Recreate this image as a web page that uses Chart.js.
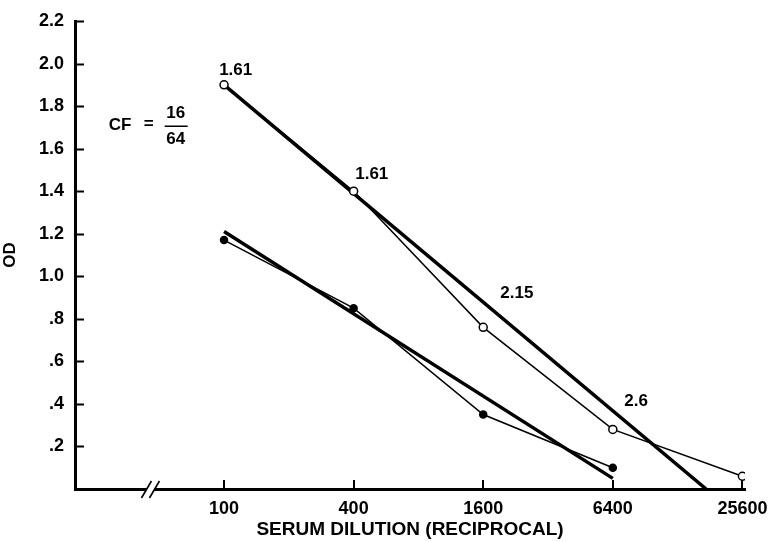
<!DOCTYPE html>
<html>
<head>
<meta charset="utf-8">
<script src="https://cdn.jsdelivr.net/npm/chart.js@4/dist/chart.umd.min.js"></script>
<style>
  html, body { margin: 0; padding: 0; background: #fff; }
  #wrap { width: 770px; height: 542px; }
</style>
</head>
<body>
<div id="wrap"><canvas id="odChart" width="770" height="542"></canvas></div>
<script>
// serum dilutions (reciprocal), evenly spaced on a log axis
const dilutions = ["100", "400", "1600", "6400", "25600"];
const yTickLabels = ["", ".2", ".4", ".6", ".8", "1.0", "1.2", "1.4", "1.6", "1.8", "2.0", "2.2"];

// measured OD, open circles
const openOD = [1.9, 1.40, 0.76, 0.28, 0.06];
// measured OD, filled circles
const filledOD = [1.17, 0.85, 0.35, 0.10];

// fitted straight lines (dilution index -> OD)
const upperFitX = [0, 3.72];
const upperFitY = [1.9, 0];
const lowerFitX = [0, 3];
const lowerFitY = [1.21, 0.05];

// slope labels
const slopeLabels = ["1.61", "1.61", "2.15", "2.6"];

const FONT = "'Liberation Sans', Arial, Helvetica, sans-serif";

function pts(xs, ys) {
    return ys.map((y, i) => ({ x: xs[i], y: y }));
}
const idx = dilutions.map((d, i) => i);

const annotations = {
    id: "annotations",
    afterDraw(chart) {
        const ctx = chart.ctx;
        const x = chart.scales.x;
        const y = chart.scales.y;
        ctx.save();
        ctx.strokeStyle = "#000";
        ctx.lineWidth = 2;
        // inward tick marks
        y.ticks.forEach(t => {
            if (t.value === 0) return;
            const py = Math.round(y.getPixelForValue(t.value)) + 0.5;
            ctx.beginPath();
            ctx.moveTo(x.left, py);
            ctx.lineTo(x.left + 9, py);
            ctx.stroke();
        });
        x.ticks.forEach(t => {
            const px = Math.round(x.getPixelForValue(t.value));
            ctx.beginPath();
            ctx.moveTo(px, y.bottom);
            ctx.lineTo(px, y.bottom - 9);
            ctx.stroke();
        });
        // axis break
        const bx = x.getPixelForValue(-0.56);
        const by = y.bottom;
        ctx.fillStyle = "#fff";
        ctx.fillRect(bx - 5, by - 3, 8, 6);
        ctx.lineWidth = 1.6;
        [-4, 4].forEach(o => {
            ctx.beginPath();
            ctx.moveTo(bx + o - 6, by + 9);
            ctx.lineTo(bx + o + 4, by - 8);
            ctx.stroke();
        });

        // slope labels
        const spots = [[0.09, 1.97], [1.14, 1.48], [2.26, 0.92], [3.18, 0.41]];
        ctx.fillStyle = "#000";
        ctx.font = "bold 17px " + FONT;
        ctx.textAlign = "center";
        ctx.textBaseline = "middle";
        slopeLabels.forEach((s, i) => {
            ctx.fillText(s, x.getPixelForValue(spots[i][0]), y.getPixelForValue(spots[i][1]));
        });

        // CF = 16/64
        const cx = x.getPixelForValue(-0.89);
        const cy = y.getPixelForValue(1.71);
        ctx.textAlign = "left";
        ctx.fillText("CF", cx, cy);
        ctx.fillText("=", cx + 35, cy - 1);
        ctx.textAlign = "center";
        const fx = cx + 67;
        ctx.fillText("16", fx, cy - 12);
        ctx.fillText("64", fx, cy + 14);
        ctx.lineWidth = 1.5;
        ctx.beginPath();
        ctx.moveTo(fx - 11, cy + 1);
        ctx.lineTo(fx + 12, cy + 1);
        ctx.stroke();
        ctx.restore();
    }
};

new Chart(document.getElementById("odChart"), {
    type: "scatter",
    data: {
        datasets: [
            {
                label: "open",
                data: pts(idx, openOD),
                showLine: true,
                borderColor: "#000",
                borderWidth: 1.5,
                pointRadius: 4,
                pointBackgroundColor: "#fff",
                pointBorderColor: "#000",
                pointBorderWidth: 1.5,
                order: 1
            },
            {
                label: "filled",
                data: pts(idx, filledOD),
                showLine: true,
                borderColor: "#000",
                borderWidth: 1.5,
                pointRadius: 3.5,
                pointBackgroundColor: "#000",
                pointBorderColor: "#000",
                order: 2
            },
            {
                label: "upper fit",
                data: pts(upperFitX, upperFitY),
                showLine: true,
                borderColor: "#000",
                borderWidth: 3.5,
                pointRadius: 0,
                order: 3
            },
            {
                label: "lower fit",
                data: pts(lowerFitX, lowerFitY),
                showLine: true,
                borderColor: "#000",
                borderWidth: 3.5,
                pointRadius: 0,
                order: 4
            }
        ]
    },
    options: {
        responsive: false,
        animation: false,
        layout: {
            padding: { left: 0, top: 21, right: 25, bottom: 0 }
        },
        plugins: {
            legend: { display: false },
            tooltip: { enabled: false }
        },
        scales: {
            x: {
                type: "linear",
                min: -1.15,
                max: 4.02,
                afterBuildTicks: scale => {
                    scale.ticks = idx.map(i => ({ value: i }));
                },
                afterFit: scale => { scale.height = 53; },
                grid: { display: false },
                border: { display: true, color: "#000", width: 3 },
                ticks: {
                    color: "#000",
                    padding: 1,
                    maxRotation: 0,
                    font: { family: FONT, size: 18, weight: "bold" },
                    callback: v => dilutions[v]
                },
                title: {
                    display: true,
                    text: "SERUM DILUTION (RECIPROCAL)",
                    color: "#000",
                    padding: { top: 0, bottom: 1 },
                    font: { family: FONT, size: 19, weight: "bold" }
                }
            },
            y: {
                min: 0,
                max: 2.2,
                afterFit: scale => { scale.width = 75; },
                grid: { display: false },
                border: { display: true, color: "#000", width: 3 },
                ticks: {
                    stepSize: 0.2,
                    color: "#000",
                    padding: 3,
                    font: { family: FONT, size: 18, weight: "bold" },
                    callback: (v, i) => yTickLabels[i]
                },
                title: {
                    display: true,
                    text: "OD",
                    color: "#000",
                    padding: { top: 0, bottom: 0 },
                    font: { family: FONT, size: 17, weight: "bold" }
                }
            }
        }
    },
    plugins: [annotations]
});
</script>
</body>
</html>
